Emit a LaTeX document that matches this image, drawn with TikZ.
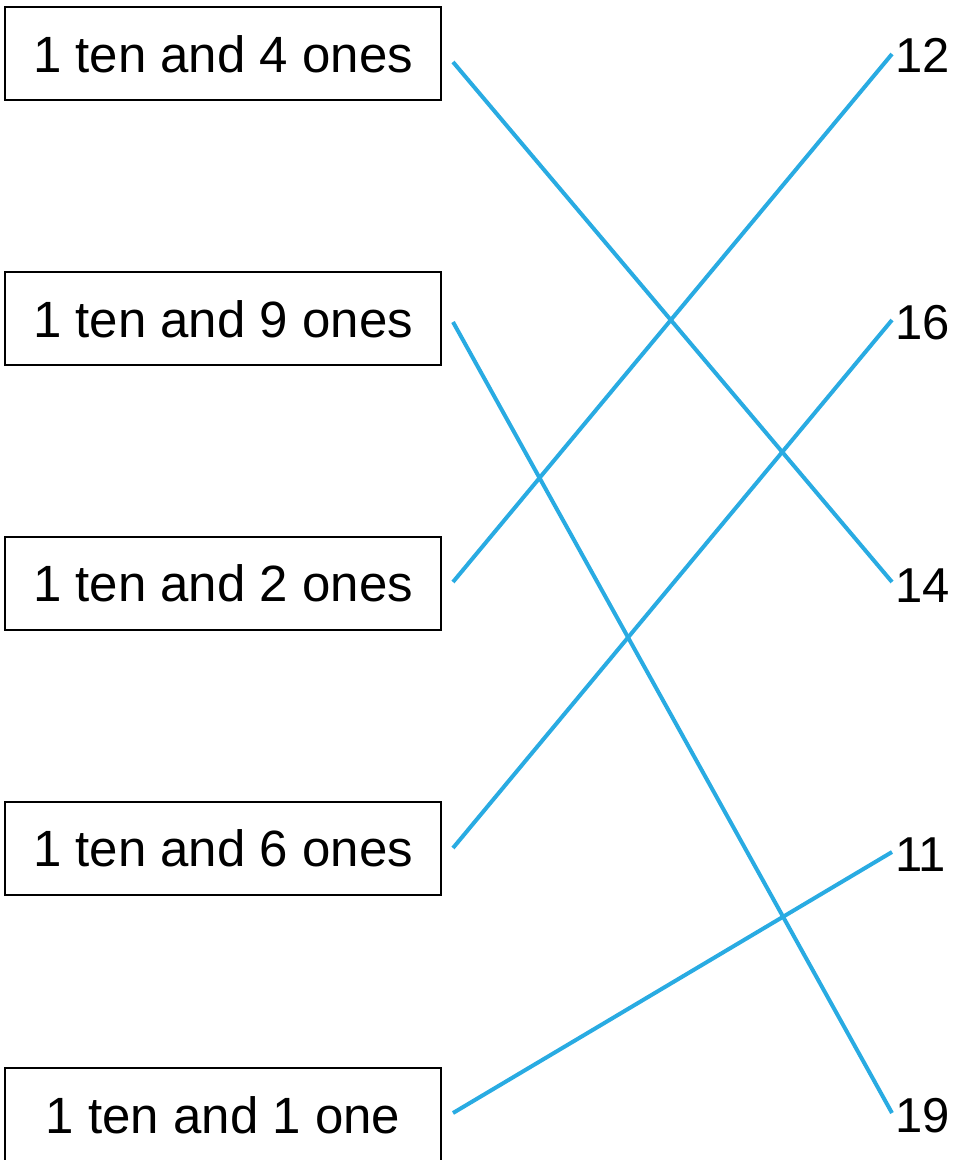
\documentclass[tikz,border=0pt]{standalone}
\usepackage{fontspec}
\setmainfont{Liberation Sans}
\definecolor{lineblue}{HTML}{29ABE2}
\begin{document}
\begin{tikzpicture}[x=1pt,y=-1pt,
  card/.style={draw=black,line width=2pt,minimum width=436pt,minimum height=93pt,inner sep=0pt,text height=37pt,text depth=0pt,font=\fontsize{51}{60}\selectfont},
  num/.style={anchor=base west,inner sep=0pt,font=\fontsize{49}{58}\selectfont},
  match/.style={draw=lineblue,line width=4pt}]
\useasboundingbox (0,0) rectangle (954,1160);
\node[card] (b1) at (223,53.5) {1 ten and 4 ones};
\node[card] (b2) at (223,318.5) {1 ten and 9 ones};
\node[card] (b3) at (223,583) {1 ten and 2 ones};
\node[card] (b4) at (223,848) {1 ten and 6 ones};
\node[card] (b5) at (223,1114.5) {1 ten and 1 one};
\node[num] (n12) at (895,72) {12};
\node[num] (n16) at (895,339) {16};
\node[num] (n14) at (895,602) {14};
\node[num] (n11) at (895,871) {11};
\node[num] (n19) at (895,1132) {19};
\coordinate (l1) at (453,62);
\coordinate (l2) at (453,322);
\coordinate (l3) at (453,582);
\coordinate (l4) at (453,848);
\coordinate (l5) at (453,1113);
\coordinate (r12) at (892,54);
\coordinate (r16) at (892,320);
\coordinate (r14) at (892,582);
\coordinate (r11) at (892,852);
\coordinate (r19) at (892,1113);
\draw[match] (l1) -- (r14);
\draw[match] (l2) -- (r19);
\draw[match] (l3) -- (r12);
\draw[match] (l4) -- (r16);
\draw[match] (l5) -- (r11);
\end{tikzpicture}
\end{document}
